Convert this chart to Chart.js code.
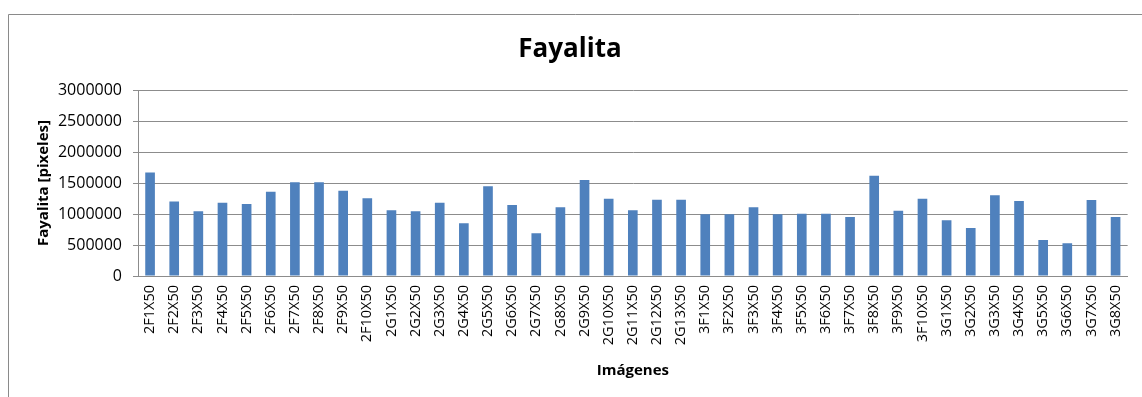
<!DOCTYPE html>
<html>
<head>
<meta charset="utf-8">
<script src="https://cdn.jsdelivr.net/npm/chart.js@4/dist/chart.umd.min.js"></script>
<style>
  html, body { margin: 0; padding: 0; background: #ffffff; }
  #wrap { width: 1142px; height: 397px; position: relative; }
</style>
</head>
<body>
<div id="wrap"><canvas id="c" width="1142" height="397"></canvas></div>
<script>
// Image names along the x axis
const categories = [
  '2F1X50','2F2X50','2F3X50','2F4X50','2F5X50','2F6X50','2F7X50','2F8X50','2F9X50','2F10X50',
  '2G1X50','2G2X50','2G3X50','2G4X50','2G5X50','2G6X50','2G7X50','2G8X50','2G9X50','2G10X50',
  '2G11X50','2G12X50','2G13X50',
  '3F1X50','3F2X50','3F3X50','3F4X50','3F5X50','3F6X50','3F7X50','3F8X50','3F9X50','3F10X50',
  '3G1X50','3G2X50','3G3X50','3G4X50','3G5X50','3G6X50','3G7X50','3G8X50'
];

// Fayalite area per image, in pixels
const fayalita = [
  1670000, 1200000, 1043000, 1183000, 1161000, 1360000, 1511000, 1511000, 1376000, 1253000,
  1059000, 1043000, 1183000, 850000, 1446000, 1145000, 688000, 1108000, 1548000, 1247000,
  1059000, 1231000, 1231000,
  995000, 995000, 1110000, 995000, 1005000, 1005000, 952000, 1618000, 1054000, 1247000,
  898000, 774000, 1301000, 1210000, 581000, 527000, 1226000, 952000
];

// Value axis ticks
const yTicks = [0, 500000, 1000000, 1500000, 2000000, 2500000, 3000000];

const FONT = "'Open Sans', 'DejaVu Sans', sans-serif";
const GRID = '#8c8c8c';

// Thin grey frame around the chart area
const framePlugin = {
  id: 'frame',
  beforeDraw(chart) {
    const ctx = chart.ctx;
    ctx.save();
    ctx.fillStyle = '#ffffff';
    ctx.fillRect(0, 0, chart.width, chart.height);
    ctx.strokeStyle = '#8a8a8a';
    ctx.lineWidth = 1;
    ctx.beginPath();
    ctx.moveTo(8.5, chart.height + 2);
    ctx.lineTo(8.5, 14.5);
    ctx.lineTo(chart.width + 2, 14.5);
    ctx.stroke();
    ctx.restore();
  }
};

new Chart(document.getElementById('c'), {
  type: 'bar',
  data: {
    labels: categories,
    datasets: [{
      label: 'Fayalita',
      data: fayalita,
      backgroundColor: '#4f81bd',
      borderWidth: 0,
      categoryPercentage: 1.0,
      barPercentage: 0.4
    }]
  },
  options: {
    responsive: false,
    animation: false,
    devicePixelRatio: 1,
    layout: { padding: { top: 14, left: 0, right: 2, bottom: 0 } },
    plugins: {
      legend: { display: false },
      tooltip: { enabled: false },
      title: {
        display: true,
        text: 'Fayalita',
        color: '#000000',
        font: { family: FONT, size: 26, weight: 'bold' },
        padding: { top: 20, bottom: 24.8 }
      }
    },
    scales: {
      x: {
        grid: { display: false, drawTicks: false },
        border: { display: true, color: GRID, width: 1 },
        ticks: {
          color: '#000000',
          font: { family: FONT, size: 14.5 },
          minRotation: 90,
          maxRotation: 90,
          autoSkip: false,
          padding: 9
        },
        title: {
          display: true,
          text: 'Imágenes',
          color: '#000000',
          font: { family: FONT, size: 15, weight: 'bold' },
          padding: { top: 0, bottom: 17 }
        },
        afterFit(scale) { scale.height = 121; }
      },
      y: {
        min: 0,
        max: 3000000,
        afterBuildTicks(scale) { scale.ticks = yTicks.map(v => ({ value: v })); },
        grid: { color: GRID, lineWidth: 1, drawTicks: true, tickLength: 5, tickColor: GRID },
        border: { display: true, color: GRID, width: 1 },
        ticks: {
          color: '#000000',
          font: { family: FONT, size: 16 },
          padding: 11,
          callback: v => String(v)
        },
        title: {
          display: true,
          text: 'Fayalita [pixeles]',
          color: '#000000',
          font: { family: FONT, size: 15, weight: 'bold' },
          padding: { top: 35, bottom: 0 }
        },
        afterFit(scale) { scale.width = 138; }
      }
    }
  },
  plugins: [framePlugin]
});
</script>
</body>
</html>
